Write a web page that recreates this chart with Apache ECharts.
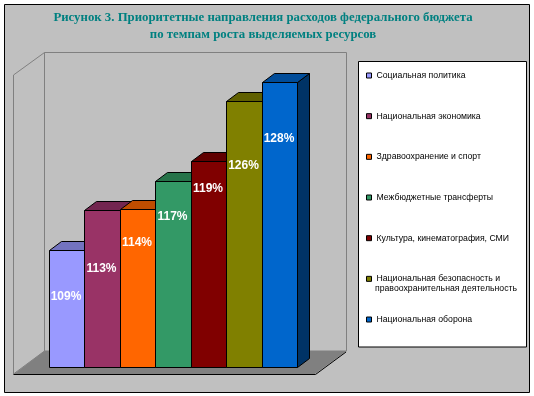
<!DOCTYPE html>
<html><head><meta charset="utf-8">
<script src="https://cdn.jsdelivr.net/npm/echarts@6/dist/echarts.min.js"></script>
<style>html,body{margin:0;padding:0;background:#fff}#c{width:534px;height:396px}</style>
</head><body><div id="c"></div>
<script>
const titleLines = ['Рисунок 3. Приоритетные направления расходов федерального бюджета', 'по темпам роста выделяемых ресурсов'];
const categories = ['Социальная политика','Национальная экономика','Здравоохранение и спорт','Межбюджетные трансферты','Культура, кинематография, СМИ','Национальная безопасность и\nправоохранительная деятельность','Национальная оборона'];
const values = [109, 113.4, 113.5, 116.6, 118.8, 125.5, 127.6];
const colors = ['#9999FF','#993366','#FF6600','#339966','#800000','#808000','#0066CC'];
const topColors = ['#7373BF','#732650','#BF4D00','#267349','#600000','#606000','#004C99'];
const sideColors = ['#4D4D80','#4D1A33','#803300','#1A4D33','#400000','#404000','#003366'];
const labelDrops = [46, 58, 33, 35, 27, 64, 56];

const DX = 12, DY = 9;
const crisp = v => Math.round(v - 0.5) + 0.5;

const series = categories.map((name, i) => ({
  name, type: 'custom', coordinateSystem: 'cartesian2d', clip: false,
  itemStyle: {color: colors[i]},
  encode: {x: 0, y: 1},
  data: [[i, values[i]]],
  renderItem(params, api) {
    const idx = api.value(0), val = api.value(1);
    const w = api.size([1, 0])[0];
    const c = api.coord([idx, val]);
    const b = api.coord([idx, 96]);
    const x0 = crisp(c[0] - w / 2), x1 = crisp(c[0] + w / 2), yt = crisp(c[1]), yb = crisp(b[1]);
    const line = {stroke: '#000', lineWidth: 1};
    return {type: 'group', children: [
      {type: 'polygon', shape: {points: [[x1,yt],[x1+DX,yt-DY],[x1+DX,yb-DY],[x1,yb]]}, style: {fill: sideColors[i], ...line}},
      {type: 'polygon', shape: {points: [[x0,yt],[x0+DX,yt-DY],[x1+DX,yt-DY],[x1,yt]]}, style: {fill: topColors[i], ...line}},
      {type: 'rect', shape: {x: x0, y: yt, width: x1-x0, height: yb-yt}, style: {fill: colors[i], ...line}},
      {type: 'text', x: (x0+x1)/2 - 1, y: yt + labelDrops[i], z2: 10, style: {text: Math.round(val) + '%', fill: '#fff', font: 'bold 12px "Liberation Sans"', align: 'center', verticalAlign: 'middle'}}
    ]};
  }
}));

const legendFirstLine = n => n.split('\n')[0];
const secondLine = categories[5].split('\n')[1];

const chart = echarts.init(document.getElementById('c'), null, {renderer: 'canvas'});
chart.setOption({
  animation: false,
  backgroundColor: '#fff',
  grid: {left: 49.5, top: 52, width: 248, height: 315},
  xAxis: {type: 'category', data: categories, show: false},
  yAxis: {type: 'value', min: 96, max: 131, show: false},
  legend: {
    orient: 'vertical', left: 366, top: 70.5, padding: 0, itemWidth: 5, itemHeight: 5, itemGap: 30.67,
    icon: 'rect', selectedMode: false,
    itemStyle: {borderColor: '#000', borderWidth: 1},
    textStyle: {fontFamily: '"Liberation Sans"', fontSize: 8.7, color: '#000', height: 10, lineHeight: 10},
    formatter: legendFirstLine,
    data: categories
  },
  series,
  graphic: {elements: [
    {type: 'rect', z: -10, shape: {x: 4.5, y: 4.5, width: 525, height: 388}, style: {fill: '#C0C0C0', stroke: '#000', lineWidth: 1}},
    {type: 'polygon', z: -9, shape: {points: [[13.5,75],[44.5,52.5],[44.5,351],[13.5,374]]}, style: {fill: '#C0C0C0', stroke: '#808080', lineWidth: 1}},
    {type: 'rect', z: -9, shape: {x: 44.5, y: 52.5, width: 302, height: 298.5}, style: {fill: '#C0C0C0', stroke: '#808080', lineWidth: 1}},
    {type: 'polygon', z: -8, shape: {points: [[14,374],[44.5,351],[346.5,351],[315,374]]}, style: {fill: '#808080'}},
    {type: 'polyline', z: -8, shape: {points: [[13.5,374.5],[315.5,374.5],[346,352]]}, style: {fill: null, stroke: '#000', lineWidth: 1}},
    {type: 'rect', z: -5, shape: {x: 358.5, y: 61.5, width: 168, height: 285.5}, style: {fill: '#fff', stroke: '#000', lineWidth: 1}},
    {type: 'text', z: 5, x: 263, y: 18, style: {text: titleLines[0], fill: '#008080', font: 'bold 12.8px "Liberation Serif"', align: 'center', verticalAlign: 'middle'}},
    {type: 'text', z: 5, x: 263, y: 35, style: {text: titleLines[1], fill: '#008080', font: 'bold 12.8px "Liberation Serif"', align: 'center', verticalAlign: 'middle'}},
    {type: 'text', z: 5, x: 375, y: 289, style: {text: secondLine, fill: '#000', font: '8.7px "Liberation Sans"', align: 'left', verticalAlign: 'middle'}}
  ]}
});
</script></body></html>
